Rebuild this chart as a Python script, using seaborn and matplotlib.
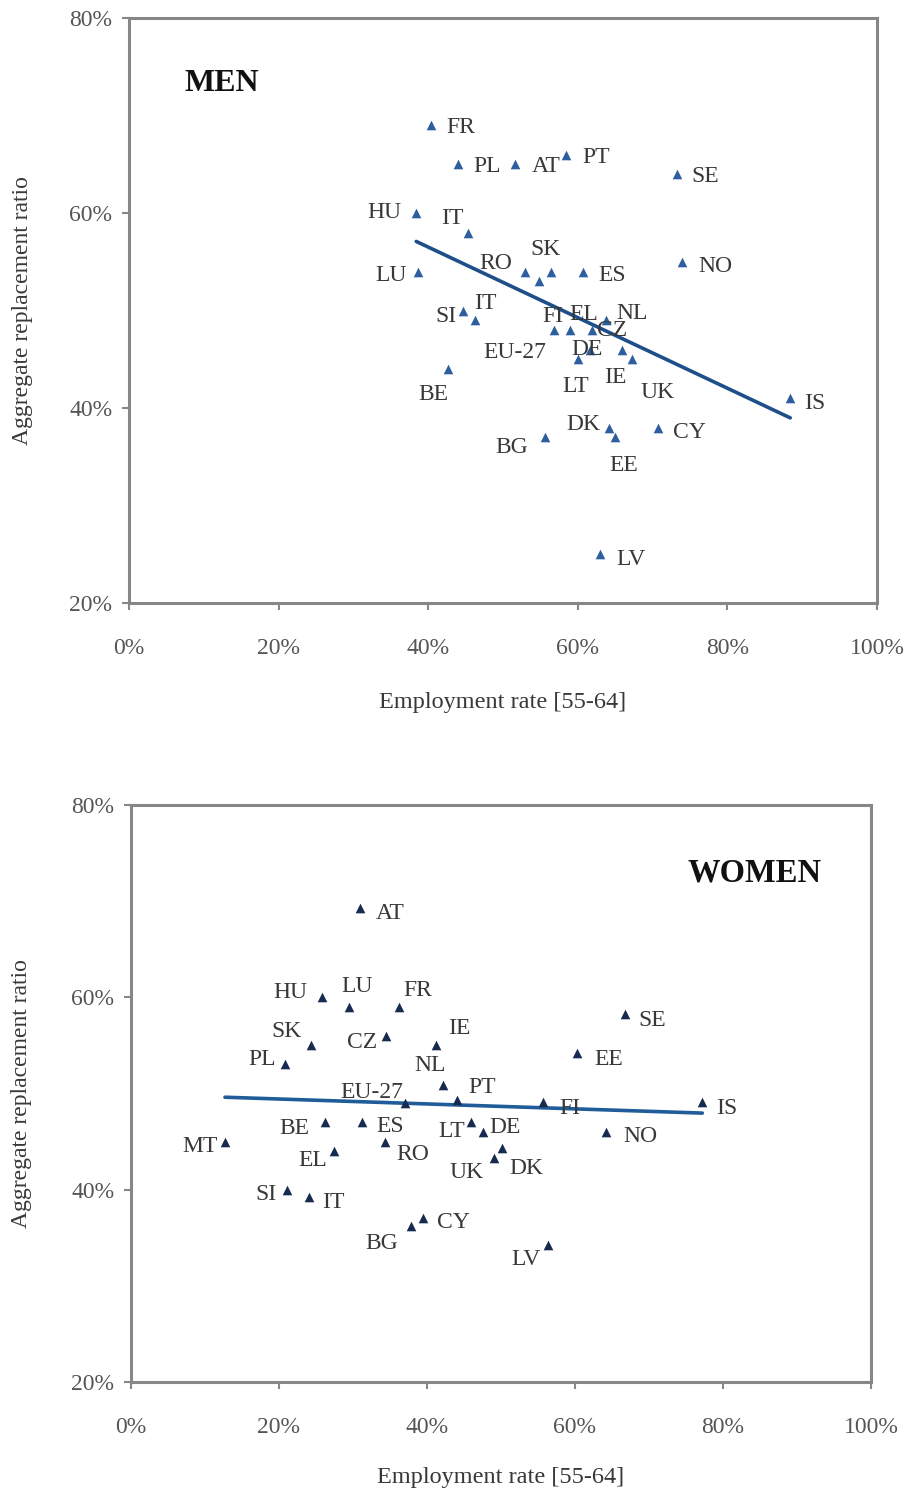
import numpy as np
import pandas as pd
import matplotlib
matplotlib.use("Agg")
import matplotlib.pyplot as plt
import seaborn as sns
from matplotlib.ticker import PercentFormatter

# ---------------- data ----------------
men_countries = ["FR", "PL", "AT", "PT", "SE", "HU", "IT", "LU", "RO", "EU-27",
                 "SK", "ES", "NO", "SI", "IT", "FI", "EL", "CZ", "NL", "DE",
                 "LT", "IE", "UK", "BE", "DK", "EE", "BG", "CY", "IS", "LV"]
men_employment = [40.4, 44.0, 51.6, 58.4, 73.3, 38.4, 45.3, 38.6, 52.9, 54.8,
                  56.4, 60.7, 73.9, 44.7, 46.3, 56.8, 59.0, 61.9, 63.8, 61.6,
                  60.0, 65.9, 67.2, 42.6, 64.2, 65.0, 55.6, 70.7, 88.4, 63.0]
men_replacement = [69, 65, 65, 66, 64, 60, 58, 54, 54, 53,
                   54, 54, 55, 50, 49, 48, 48, 48, 49, 46,
                   45, 46, 45, 44, 38, 37, 37, 38, 41, 25]

women_countries = ["AT", "HU", "LU", "FR", "SK", "CZ", "PL", "IE", "NL", "EU-27",
                   "PT", "FI", "EE", "SE", "IS", "NO", "ES", "BE", "LT", "DE",
                   "RO", "MT", "EL", "DK", "UK", "SI", "IT", "CY", "BG", "LV"]
women_employment = [30.9, 25.8, 29.4, 36.2, 24.3, 34.4, 20.8, 41.2, 42.2, 37.0,
                    44.0, 55.7, 60.3, 66.7, 77.2, 64.2, 31.2, 26.2, 46.0, 47.6,
                    34.3, 12.7, 27.4, 50.1, 49.1, 21.1, 24.0, 39.4, 37.9, 56.4]
women_replacement = [69.3, 60.0, 59.0, 59.0, 55.0, 56.0, 53.1, 55.0, 50.9, 49.0,
                     49.3, 49.1, 54.2, 58.3, 49.1, 46.0, 47.0, 47.0, 47.0, 46.0,
                     45.0, 45.0, 44.0, 44.3, 43.3, 40.0, 39.2, 37.1, 36.2, 34.2]

x_ticks = [0, 20, 40, 60, 80, 100]
y_ticks = [20, 40, 60, 80]

# label placement (pixel offsets from marker, image y downward)
men_offsets = [(30, -2), (29, -2), (31, -2), (30, -1), (28, -1), (-32, -4), (-15, -18),
               (-27, 0), (-29, -12), (-24, 67), (-5, -26), (29, 0), (34, 1), (-17, 2),
               (10, -21), (-1, -18), (13, -20), (20, -4), (26, -11), (-3, -4),
               (-2, 23), (-7, 24), (26, 29), (-14, 22), (-26, -7), (9, 24),
               (-33, 6), (32, 1), (25, 1), (31, 1)]
women_offsets = [(31, 2), (-31, -9), (9, -24), (19, -20), (-24, -18), (-23, 3),
                 (-23, -8), (23, -21), (-13, -23), (-33, -15), (26, -17), (27, 2),
                 (32, 2), (28, 3), (24, 2), (34, 1), (28, 0), (-31, 2), (-20, 5),
                 (22, -8), (28, 9), (-25, 1), (-21, 5), (25, 16), (-28, 11),
                 (-21, 1), (25, 1), (31, 1), (-30, 13), (-22, 10)]

men_df = pd.DataFrame({"country": men_countries, "emp": men_employment, "rr": men_replacement})
women_df = pd.DataFrame({"country": women_countries, "emp": women_employment, "rr": women_replacement})

# ---------------- style ----------------
sns.set_theme(style="white")
plt.rcParams["font.family"] = ["Liberation Serif", "DejaVu Serif"]

frame_col = "#878787"
tick_col = "#555555"
text_col = "#383838"
label_shift = 4  # text baseline correction, pixels downward

fig = plt.figure(figsize=(9.07, 14.93), dpi=100)
ax1 = fig.add_axes([129 / 907, 1 - 603 / 1493, (877 - 129) / 907, (603 - 18) / 1493])
ax2 = fig.add_axes([131 / 907, 1 - 1382 / 1493, (871 - 131) / 907, (1382 - 805) / 1493])


def draw(ax, df, offsets, marker_col, line_col, title, title_xy, title_size):
    sns.regplot(data=df, x="emp", y="rr", ax=ax, scatter=False, ci=None,
                truncate=True, line_kws={"color": line_col, "lw": 2.6})
    sns.scatterplot(data=df, x="emp", y="rr", ax=ax, marker="^", s=48,
                    color=marker_col, linewidth=0, zorder=3)
    for (c, x, y), (dx, dy) in zip(df[["country", "emp", "rr"]].values, offsets):
        ax.annotate(c, (x, y), xytext=(dx, -(dy + label_shift)), textcoords="offset pixels",
                    ha="center", va="center", fontsize=17, color=text_col)
    ax.set_xlim(0, 100)
    ax.set_ylim(20, 80)
    ax.set_xticks(x_ticks)
    ax.set_yticks(y_ticks)
    ax.xaxis.set_major_formatter(PercentFormatter(decimals=0))
    ax.yaxis.set_major_formatter(PercentFormatter(decimals=0))
    for s in ax.spines.values():
        s.set_visible(True)
        s.set_color(frame_col)
        s.set_linewidth(2.2)
    ax.tick_params(axis="both", which="major", direction="out", length=5, width=1.5,
                   color=frame_col, labelcolor=tick_col, labelsize=17,
                   bottom=True, left=True)
    ax.tick_params(axis="x", pad=20)
    ax.tick_params(axis="y", pad=7)
    ax.set_xlabel("Employment rate [55-64]", fontsize=17.5, color=text_col)
    ax.set_ylabel("Aggregate replacement ratio", fontsize=17, color=text_col)
    ax.xaxis.label.set_va("center")
    ax.yaxis.label.set_va("center")
    ax.text(title_xy[0], title_xy[1], title, transform=ax.transAxes, ha="center",
            va="center", fontsize=title_size, fontweight="bold", color="#111111")


draw(ax1, men_df, men_offsets, "#2d5f9e", "#1f4f8a", "MEN", (0.124, 0.888), 23)
draw(ax2, women_df, women_offsets, "#172a4f", "#1f5c99", "WOMEN", (0.843, 0.883), 23.5)

ax1.yaxis.set_label_coords((22 - 129) / 748, 0.5)
ax1.xaxis.set_label_coords(0.5, -(702 - 603) / 585)
ax2.yaxis.set_label_coords((22 - 131) / 740, 0.5)
ax2.xaxis.set_label_coords(0.5, -(1477 - 1382) / 577)

fig.savefig("out.png", dpi=100, facecolor="white")
